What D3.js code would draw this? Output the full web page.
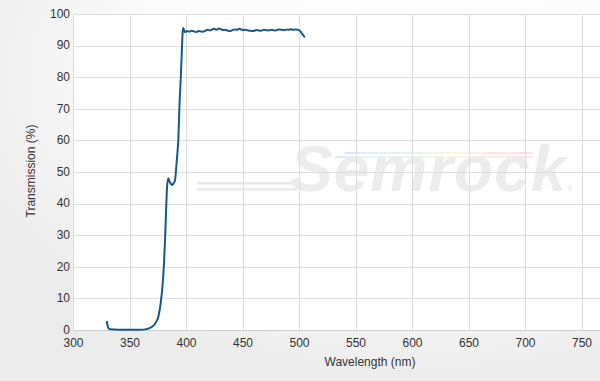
<!DOCTYPE html>
<html>
<head>
<meta charset="utf-8">
<script src="https://cdn.jsdelivr.net/npm/d3@7"></script>
<style>
    body { margin: 0; padding: 0; }
    svg { display: block; font-family: "Liberation Sans", Arial, sans-serif; }
</style>
</head>
<body>
<svg id="chart" width="600" height="381"></svg>
<script>
// transmission curve
var wavelength = [330, 330.6, 331.5, 333, 340, 350, 360, 364, 367, 370, 372.6, 375.5, 377.6, 379.4,
    380.5, 381.4, 382.3, 383.2, 384.3, 385.5, 386.8, 387.9, 389.2, 390.3, 391.5, 392.4, 393.2,
    394.1, 395.4, 396.5, 397.1, 397.6, 398.3, 399,
    401, 403, 405, 407, 409, 411, 413, 415, 417, 419, 421, 423, 425, 427, 429, 431, 433, 435,
    437, 439, 441, 443, 445, 447, 449, 451, 453, 455, 457, 459, 461, 463, 465, 467, 469, 471,
    473, 475, 477, 479, 481, 483, 485, 487, 489, 491, 493, 495, 497, 499, 500.5, 501.5, 502.5,
    503.5, 504.7];
var transmission = [2.6, 1.4, 0.5, 0.2, 0.1, 0.1, 0.1, 0.2, 0.5, 1.0, 2.0, 4.2, 8.5, 14.8,
    21, 28, 37, 45, 48, 47, 46.2, 45.9, 46.5, 47.5, 52, 56, 60,
    70, 80, 90, 94.5, 95.6, 94.9, 94.3,
    94.6, 94.4, 94.7, 94.5, 94.3, 94.6, 94.5, 94.4, 94.7, 95.0, 94.8, 95.1, 95.3, 95.0, 95.4, 95.2, 94.9, 95.0,
    94.7, 94.6, 94.9, 95.1, 95.0, 95.3, 95.1, 94.9, 95.0, 94.8, 94.7, 94.6, 94.8, 94.9, 94.7, 94.8, 95.0, 94.9,
    94.8, 95.0, 94.9, 94.8, 95.0, 95.1, 95.0, 94.9, 95.1, 95.0, 95.2, 95.0, 95.1, 95.0, 94.8, 94.4, 93.9,
    93.4, 92.8];

var xTicks = [300, 350, 400, 450, 500, 550, 600, 650, 700, 750];
var yTicks = [0, 10, 20, 30, 40, 50, 60, 70, 80, 90, 100];

var W = 600, H = 381;
var plotLeft = 73, plotTop = 14, plotBottom = 330;

var svg = d3.select("#chart");

// background gradient (grey edges, white to the upper right)
var defs = svg.append("defs");
var bg = defs.append("radialGradient").attr("id", "bg")
    .attr("cx", "70%").attr("cy", "20%").attr("r", "80%");
bg.append("stop").attr("offset", "0%").attr("stop-color", "#ffffff");
bg.append("stop").attr("offset", "60%").attr("stop-color", "#fbfbfb");
bg.append("stop").attr("offset", "100%").attr("stop-color", "#ececec");
svg.append("rect").attr("width", W).attr("height", H).attr("fill", "url(#bg)");

var x = d3.scaleLinear().domain([300, 750]).range([plotLeft, 581.5]);
var y = d3.scaleLinear().domain([0, 100]).range([plotBottom, plotTop]);

svg.append("rect")
    .attr("x", plotLeft).attr("y", plotTop)
    .attr("width", W - plotLeft).attr("height", plotBottom - plotTop)
    .attr("fill", "#fff");

// watermark
var rainbow = defs.append("linearGradient").attr("id", "rainbow");
["#6f6fff", "#6fd0ff", "#7fe07f", "#f0e070", "#ff9070", "#ff7070"].forEach(function(c, i, a) {
    rainbow.append("stop").attr("offset", (i / (a.length - 1) * 100) + "%").attr("stop-color", c);
});
var wm = svg.append("g").attr("class", "watermark");
wm.append("rect").attr("x", 345).attr("y", 152).attr("width", 188).attr("height", 2)
    .attr("fill", "url(#rainbow)").attr("opacity", 0.22);
wm.append("rect").attr("x", 335).attr("y", 156).attr("width", 198).attr("height", 2)
    .attr("fill", "url(#rainbow)").attr("opacity", 0.18);
wm.append("rect").attr("x", 197).attr("y", 182).attr("width", 105).attr("height", 2.5).attr("fill", "#e9e9e9");
wm.append("rect").attr("x", 197).attr("y", 188).attr("width", 100).attr("height", 2.5).attr("fill", "#e9e9e9");
wm.append("text")
    .attr("x", 290).attr("y", 191)
    .attr("font-size", 64).attr("font-weight", "bold").attr("font-style", "italic")
    .attr("letter-spacing", 1)
    .attr("fill", "#ececec")
    .text("Semrock");
wm.append("text")
    .attr("x", 567).attr("y", 191)
    .attr("font-size", 8).attr("fill", "#e4e4e4")
    .text("®");

// grid
var grid = svg.append("g").attr("class", "grid");
grid.selectAll("line.h").data(yTicks).enter().append("line")
    .attr("class", "h")
    .attr("x1", plotLeft).attr("x2", W)
    .attr("y1", function(d) { return Math.round(y(d)) + 0.5; })
    .attr("y2", function(d) { return Math.round(y(d)) + 0.5; })
    .attr("stroke", function(d) { return d == 0 ? "#cfcfcf" : "#dedede"; })
    .attr("stroke-width", 1);
grid.selectAll("line.v").data(xTicks).enter().append("line")
    .attr("class", "v")
    .attr("y1", plotTop).attr("y2", plotBottom)
    .attr("x1", function(d) { return Math.round(x(d)) + 0.5; })
    .attr("x2", function(d) { return Math.round(x(d)) + 0.5; })
    .attr("stroke", "#dedede")
    .attr("stroke-width", 1);

// axes (labels only, lines come from the grid)
var xAxis = svg.append("g")
    .attr("transform", "translate(0," + (plotBottom + 8) + ")")
    .call(d3.axisBottom(x).tickValues(xTicks).tickSize(0).tickPadding(0));
var yAxis = svg.append("g")
    .attr("transform", "translate(" + (plotLeft - 3) + ",0)")
    .call(d3.axisLeft(y).tickValues(yTicks).tickSize(0).tickPadding(0));
[xAxis, yAxis].forEach(function(a) {
    a.select(".domain").remove();
    a.selectAll("text").attr("font-size", 12).attr("fill", "#333")
        .attr("font-family", "\"Liberation Sans\", Arial, sans-serif");
});
yAxis.selectAll("text").attr("dy", "0.28em");

svg.append("text")
    .attr("x", 370).attr("y", 366)
    .attr("text-anchor", "middle")
    .attr("font-size", 12).attr("fill", "#333")
    .text("Wavelength (nm)");
svg.append("text")
    .attr("transform", "translate(35,171) rotate(-90)")
    .attr("text-anchor", "middle")
    .attr("font-size", 12).attr("fill", "#333")
    .text("Transmission (%)");

// the curve
var pts = wavelength.map(function(w, i) { return [w, transmission[i]]; });
var line = d3.line()
    .x(function(d) { return x(d[0]); })
    .y(function(d) { return y(d[1]); })
    .curve(d3.curveMonotoneX);
svg.append("path")
    .datum(pts)
    .attr("d", line)
    .attr("fill", "none")
    .attr("stroke", "#145a8c")
    .attr("stroke-width", 2)
    .attr("stroke-linejoin", "round")
    .attr("stroke-linecap", "round");
</script>
</body>
</html>
